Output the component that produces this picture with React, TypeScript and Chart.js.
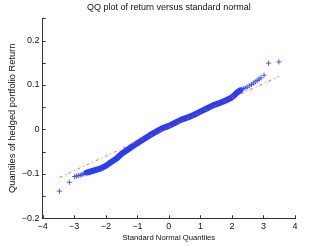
import React, { useEffect, useRef } from "react";
import { Chart, registerables } from "chart.js";

Chart.register(...registerables);

const chartTitle = "QQ plot of return versus standard normal";
const xAxisTitle = "Standard Normal Quantiles";
const yAxisTitle = "Quantiles of hedged portfolio Return";

// dense middle part of the sample quantiles
const bandX = [-2.6, -2.4, -2.2, -2.0, -1.8, -1.65, -1.5, -1.33, -1.15, -1.0, -0.8, -0.6, -0.4, -0.2, 0, 0.2, 0.4, 0.6, 0.8, 1.0, 1.2, 1.4, 1.6, 1.8, 1.95, 2.05, 2.15, 2.26];
const bandY = [-0.097, -0.093, -0.089, -0.082, -0.072, -0.065, -0.055, -0.047, -0.038, -0.031, -0.022, -0.013, -0.005, 0.003, 0.008, 0.015, 0.022, 0.027, 0.033, 0.040, 0.047, 0.054, 0.059, 0.065, 0.070, 0.075, 0.082, 0.088];

// individual tail observations
const tailX = [-3.47, -3.155, -2.99, -2.93, -2.87, -2.81, -2.76, -2.71, -2.66, -2.61, -2.56,
  2.3, 2.36, 2.42, 2.48, 2.55, 2.62, 2.68, 2.74, 2.8, 2.86, 2.92, 3.02, 3.16, 3.49];
const tailY = [-0.139, -0.119, -0.106, -0.105, -0.104, -0.103, -0.102, -0.1, -0.098, -0.097, -0.096,
  0.09, 0.092, 0.093, 0.095, 0.098, 0.101, 0.104, 0.107, 0.11, 0.113, 0.116, 0.122, 0.149, 0.152];

// reference (quartile) line end points
const refX = [-3.47, 3.49];
const refY = [-0.108, 0.119];

const xRange = [-4, 4];
const yRange = [-0.2, 0.25];
const xStep = 1;
const yStep = 0.05;

const FONT = "'Liberation Sans', Arial, Helvetica, sans-serif";
const TEXT = "#111";
const AXIS = "#333";

const toPts = (xs: number[], ys: number[]) => xs.map((x, i) => ({ x, y: ys[i] }));
const minus = (s: string) => s.replace("-", "\u2212");

const inwardTicks = {
  id: "inwardTicks",
  afterDatasetsDraw(chart: any) {
    const { ctx, chartArea: a, scales } = chart;
    const x = scales.x;
    const y = scales.y;
    ctx.save();
    ctx.strokeStyle = AXIS;
    ctx.lineWidth = 1;
    ctx.beginPath();
    y.ticks.forEach((t: any) => {
      const py = Math.round(y.getPixelForValue(t.value)) + 0.5;
      ctx.moveTo(a.left, py);
      ctx.lineTo(a.left + 3, py);
    });
    x.ticks.forEach((t: any) => {
      const px = Math.round(x.getPixelForValue(t.value)) + 0.5;
      ctx.moveTo(px, a.bottom);
      ctx.lineTo(px, a.bottom - 3);
    });
    ctx.stroke();
    ctx.restore();
  },
};

export default function App() {
  const ref = useRef<HTMLCanvasElement>(null);
  useEffect(() => {
    document.body.style.margin = "0";
    const chart = new Chart(ref.current as HTMLCanvasElement, {
      type: "scatter",
      data: {
        datasets: [
          {
            label: "reference",
            data: toPts(refX, refY),
            showLine: true,
            borderColor: "rgba(245,60,60,0.8)",
            borderWidth: 1,
            borderDash: [3, 3, 1, 3],
            pointRadius: 0,
          },
          {
            label: "tails",
            data: toPts(tailX, tailY),
            showLine: false,
            pointStyle: "cross",
            pointRadius: 2.6,
            borderColor: "rgba(50,70,245,0.85)",
            backgroundColor: "rgba(50,70,245,0.85)",
            borderWidth: 1,
          },
          {
            label: "band",
            data: toPts(bandX, bandY),
            showLine: true,
            borderColor: "rgb(40,62,240)",
            borderWidth: 6,
            borderCapStyle: "round",
            borderJoinStyle: "round",
            pointRadius: 0,
          },
        ],
      },
      options: {
        animation: false,
        responsive: false,
        devicePixelRatio: 1,
        layout: { padding: { left: 0, right: 32, top: 0, bottom: 0 } },
        plugins: {
          legend: { display: false },
          tooltip: { enabled: false },
          title: {
            display: true,
            fullSize: false,
            text: chartTitle,
            color: TEXT,
            font: { family: FONT, size: 9, weight: "normal" },
            padding: { top: 1.9, bottom: 5.6 },
          },
        },
        scales: {
          x: {
            type: "linear",
            min: xRange[0],
            max: xRange[1],
            ticks: {
              stepSize: xStep,
              autoSkip: false,
              maxRotation: 0,
              color: TEXT,
              padding: 3,
              font: { family: FONT, size: 9 },
              callback: (v: any) => minus(String(Math.round(Number(v)))),
            },
            grid: { display: false, drawTicks: false },
            border: { display: true, color: AXIS, width: 1 },
            title: {
              display: true,
              text: xAxisTitle,
              color: TEXT,
              font: { family: FONT, size: 7.7 },
              padding: { top: 0, bottom: 3.7 },
            },
            afterFit: (s: any) => {
              s.height = 27.7;
            },
          },
          y: {
            type: "linear",
            min: yRange[0],
            max: yRange[1],
            ticks: {
              stepSize: yStep,
              autoSkip: false,
              color: TEXT,
              padding: 3.3,
              font: { family: FONT, size: 9 },
              callback: (v: any) => {
                const n = Number(v) * 10;
                if (Math.abs(n - Math.round(n)) > 1e-6) return "";
                const r = Math.round(n) / 10;
                return r === 0 ? "0" : minus(String(r));
              },
            },
            grid: { display: false, drawTicks: false },
            border: { display: true, color: AXIS, width: 1 },
            title: {
              display: true,
              text: yAxisTitle,
              color: TEXT,
              font: { family: FONT, size: 9.3 },
              padding: { top: 6.9, bottom: 0 },
            },
            afterFit: (s: any) => {
              s.width = 42.7;
            },
          },
        },
      },
      plugins: [inwardTicks],
    } as any);
    return () => chart.destroy();
  }, []);
  return (
    <div style={{ width: 327, height: 246 }}>
      <canvas ref={ref} width={327} height={246} style={{ display: "block" }} />
    </div>
  );
}
